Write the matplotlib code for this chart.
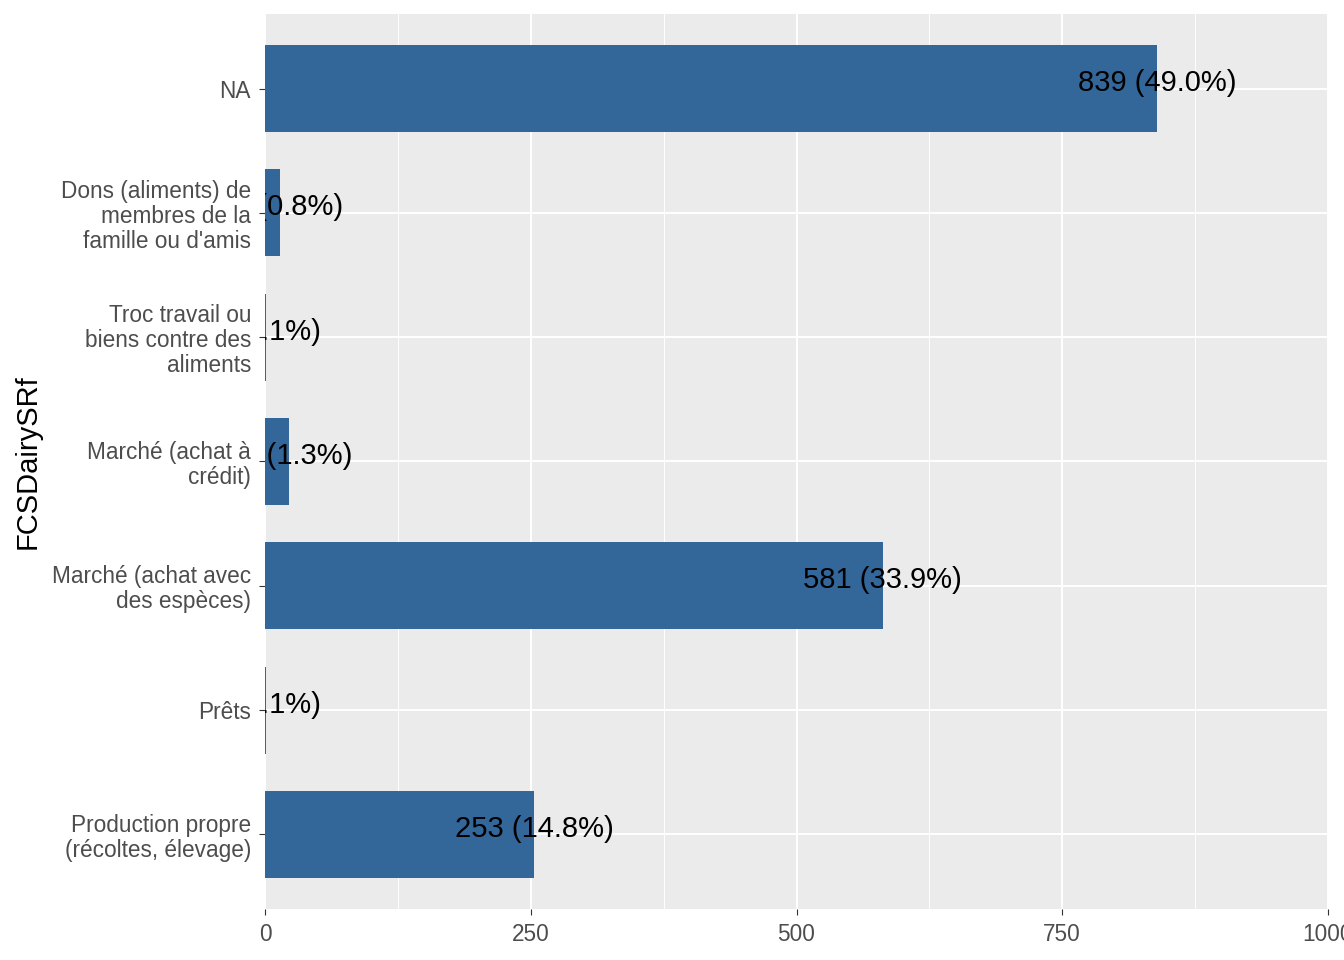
import matplotlib
matplotlib.use("Agg")
import matplotlib.pyplot as plt
from matplotlib.ticker import MultipleLocator

# data (bottom to top, as drawn)
categories = [
    "Production propre\n(récoltes, élevage)",
    "Prêts",
    "Marché (achat avec\ndes espèces)",
    "Marché (achat à\ncrédit)",
    "Troc travail ou\nbiens contre des\naliments",
    "Dons (aliments) de\nmembres de la\nfamille ou d'amis",
    "NA",
]
counts = [253, 1, 581, 23, 1, 14, 839]
total = sum(counts)
labels = ["%d (%.1f%%)" % (c, 100.0 * c / total) for c in counts]

plt.rcParams['font.family'] = ['Liberation Sans', 'DejaVu Sans']

fig = plt.figure(figsize=(13.44, 9.6), dpi=100)
ax = fig.add_axes([265 / 1344, 51 / 960, 1063 / 1344, 895 / 960])
ax.set_facecolor('#EBEBEB')

ypos = list(range(len(categories)))
ax.barh(ypos, counts, height=0.7, color='#336699', zorder=3)

# labels centred on the bar ends, clipped by the panel like ggplot
for y, c, lab in zip(ypos, counts, labels):
    t = ax.text(c, y - 0.02, lab, ha='center', va='baseline', fontsize=21,
                color='black', zorder=4)
    t.set_clip_box(ax.bbox)
    t.set_clip_on(True)

ax.set_xlim(0, 1000)
ax.set_ylim(-0.6, len(categories) - 0.4)
ax.xaxis.set_major_locator(MultipleLocator(250))
ax.xaxis.set_minor_locator(MultipleLocator(125))
ax.set_yticks(ypos)
ax.set_yticklabels(categories, linespacing=1.12)

ax.grid(True, which='major', color='white', linewidth=1.4, zorder=1)
ax.grid(True, which='minor', axis='x', color='white', linewidth=0.7, zorder=1)
ax.set_axisbelow(True)
for s in ax.spines.values():
    s.set_visible(False)

ax.tick_params(axis='both', which='major', length=4, width=0.8, color='#333333',
               labelcolor='#4D4D4D', labelsize=16.3)
ax.tick_params(axis='y', which='major', pad=6)
ax.tick_params(axis='x', which='major', pad=6)
ax.tick_params(axis='both', which='minor', length=0)

fig.text(28 / 1344, 498.5 / 960, "FCSDairySRf", rotation=90, ha='center',
         va='center', fontsize=21, color='black')

fig.savefig('out.png', dpi=100, facecolor='white')
